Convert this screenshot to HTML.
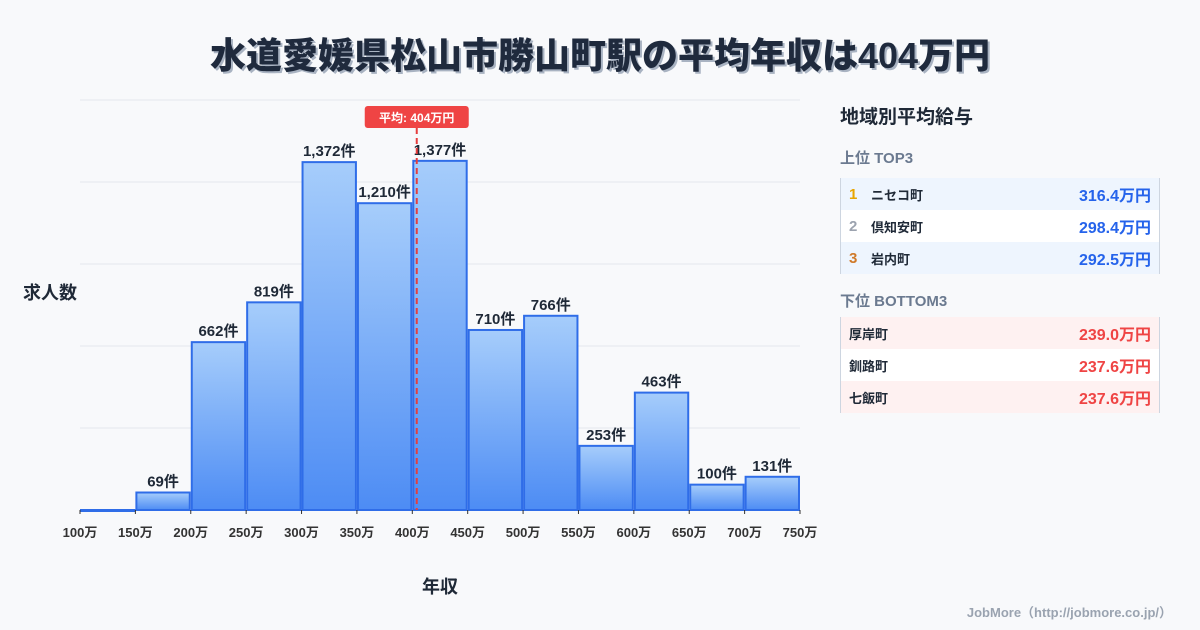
<!DOCTYPE html>
<html><head><meta charset="utf-8">
<style>
body{margin:0;width:1200px;height:630px;background:#f8f9fb;font-family:"Liberation Sans","Noto Sans CJK JP",sans-serif;overflow:hidden;position:relative;color:#1f2937}
.title{position:absolute;left:0;width:1200px;top:27px;text-align:center;font-size:36px;font-weight:900;color:#1f2a3d;text-shadow:2px 2px 0 #a9b3c2;letter-spacing:0px}
.side{position:absolute;left:840px;top:100px;width:320px}
.sh{font-size:19px;font-weight:700;color:#1f2937;margin-bottom:18px;margin-top:2px}
.sub{font-size:15px;font-weight:700;color:#6b7a90;margin-bottom:10px}
.tbl{border-left:1px solid #cdd5e0;border-right:1px solid #cdd5e0;margin-bottom:16px}
.row{height:32px;display:flex;align-items:center;font-size:13px;font-weight:700;padding:0 8px 0 8px}
.row .n{width:22px;font-size:15px;font-weight:700}
.row .nm{flex:1}
.row .v{font-size:16px;font-weight:700}
.foot{position:absolute;right:28px;top:602px;font-size:13px;color:#9aa3b0;font-weight:700}
</style></head><body>
<div class="title">水道愛媛県松山市勝山町駅の平均年収は404万円</div>
<svg id="chart" width="830" height="630" style="position:absolute;left:0;top:0">
<defs><linearGradient id="g" x1="0" y1="0" x2="0" y2="1"><stop offset="0" stop-color="#a6cdfb"/><stop offset="1" stop-color="#4d8cf4"/></linearGradient></defs>
</svg>
<div class="side">
<div class="sh">地域別平均給与</div>
<div class="sub">上位 TOP3</div>
<div class="tbl">
<div class="row" style="background:#eef5fe"><span class="n" style="color:#e8a500">1</span><span class="nm">ニセコ町</span><span class="v" style="color:#2563eb">316.4万円</span></div>
<div class="row" style="background:#fff"><span class="n" style="color:#9ca3af">2</span><span class="nm">倶知安町</span><span class="v" style="color:#2563eb">298.4万円</span></div>
<div class="row" style="background:#eef5fe"><span class="n" style="color:#d07a2a">3</span><span class="nm">岩内町</span><span class="v" style="color:#2563eb">292.5万円</span></div>
</div>
<div class="sub" style="margin-bottom:6px">下位 BOTTOM3</div>
<div class="tbl">
<div class="row" style="background:#fef1f1"><span class="nm">厚岸町</span><span class="v" style="color:#ef4444">239.0万円</span></div>
<div class="row" style="background:#fff"><span class="nm">釧路町</span><span class="v" style="color:#ef4444">237.6万円</span></div>
<div class="row" style="background:#fef1f1"><span class="nm">七飯町</span><span class="v" style="color:#ef4444">237.6万円</span></div>
</div>
</div>
<div class="foot">JobMore（http://jobmore.co.jp/）</div>
<script>
const binEdges=[100,150,200,250,300,350,400,450,500,550,600,650,700,750];
const counts=[0,69,662,819,1372,1210,1377,710,766,253,463,100,131];
const avgSalary=404;
const yMax=1617;
const svg=document.getElementById('chart');
const NS='http://www.w3.org/2000/svg';
const X0=80,X1=800,Y0=510,Y1=100;
const xs=v=>X0+(v-100)/(750-100)*(X1-X0);
const ys=v=>Y0-v/yMax*(Y0-Y1);
function mk(t,a){const e=document.createElementNS(NS,t);for(const k in a)e.setAttribute(k,a[k]);svg.appendChild(e);return e;}
for(let i=1;i<=5;i++){const y=Y0-i*(Y0-Y1)/5;const l=mk('line',{x1:X0,x2:X1,y1:y,y2:y,stroke:'#e5e8ee','stroke-width':1});

}
counts.forEach((c,i)=>{const xa=xs(binEdges[i])+1,xb=xs(binEdges[i+1])-1,y=ys(c);
const r=mk('rect',{x:xa,y:y,width:xb-xa,height:Math.max(Y0-y,1),fill:'url(#g)',stroke:'#2f6de8','stroke-width':2});


if(c>0){const t=mk('text',{x:(xa+xb)/2,y:y-6,'text-anchor':'middle','font-size':15,'font-weight':700,fill:'#1f2937'});t.textContent=c.toLocaleString('en-US')+'件';

}});
binEdges.forEach(v=>{const x=xs(v);mk('line',{x1:x,x2:x,y1:Y0,y2:Y0+4,stroke:'#333','stroke-width':1});
const t=mk('text',{x:x,y:537,'text-anchor':'middle','font-size':13,'font-weight':700,fill:'#333'});t.textContent=v+'万';

});
const ax=xs(avgSalary);
const al=mk('line',{x1:ax,x2:ax,y1:128,y2:Y0,stroke:'#e53e3e','stroke-width':2,'stroke-dasharray':'6,4'});


const ab=mk('rect',{x:ax-52,y:106,width:104,height:22,rx:3,fill:'#ef4444'});


const at=mk('text',{x:ax,y:122,'text-anchor':'middle','font-size':12,'font-weight':700,fill:'#fff'});at.textContent='平均: '+avgSalary+'万円';


const yt=mk('text',{x:50,y:299,'text-anchor':'middle','font-size':18,'font-weight':700,fill:'#1f2937'});yt.textContent='求人数';


const xt=mk('text',{x:440,y:593,'text-anchor':'middle','font-size':18,'font-weight':700,fill:'#1f2937'});xt.textContent='年収';


</script>
</body></html>
